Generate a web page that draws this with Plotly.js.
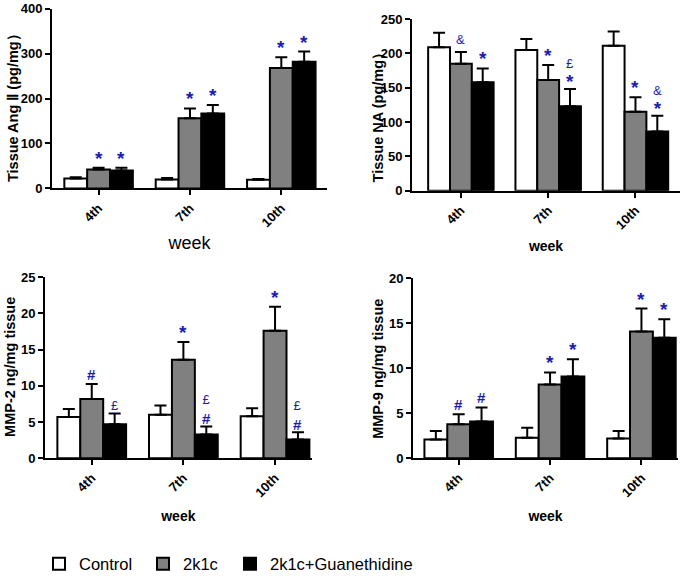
<!DOCTYPE html>
<html>
<head>
<meta charset="utf-8">
<script src="https://cdn.plot.ly/plotly-3.0.1.min.js"></script>
<style>html,body{margin:0;padding:0;background:#fff}</style>
</head>
<body>
<div id="chart" style="width:691px;height:582px"></div>
<script>
const weeks = ['4th', '7th', '10th'];
const seriesNames = ['Control', '2k1c', '2k1c+Guanethidine'];

// Tissue Ang II (pg/mg)
const angControl = [22, 20, 19];
const angControlErr = [3, 3, 2];
const ang2k1c = [42, 156, 268];
const ang2k1cErr = [4, 22, 24];
const angGuan = [40, 167, 282];
const angGuanErr = [6, 19, 23];

// Tissue NA (pg/mg)
const naControl = [209, 205, 211];
const naControlErr = [21, 16, 21];
const na2k1c = [185, 161, 115];
const na2k1cErr = [17, 22, 21];
const naGuan = [158, 123, 86];
const naGuanErr = [20, 25, 23];

// MMP-2 ng/mg tissue
const mmp2Control = [5.7, 6.0, 5.8];
const mmp2ControlErr = [1.1, 1.3, 1.1];
const mmp22k1c = [8.2, 13.6, 17.6];
const mmp22k1cErr = [2.05, 2.45, 3.3];
const mmp2Guan = [4.7, 3.3, 2.6];
const mmp2GuanErr = [1.5, 1.1, 1.0];

// MMP-9 ng/mg tissue
const mmp9Control = [2.1, 2.3, 2.2];
const mmp9ControlErr = [0.95, 1.1, 0.85];
const mmp92k1c = [3.8, 8.2, 14.1];
const mmp92k1cErr = [1.1, 1.35, 2.55];
const mmp9Guan = [4.1, 9.1, 13.4];
const mmp9GuanErr = [1.55, 1.9, 2.05];

// significance marks (top to bottom) per bar
const angMarks2k1c = [['*'], ['*'], ['*']];
const angMarksGuan = [['*'], ['*'], ['*']];
const naMarks2k1c = [['&'], ['*'], ['*']];
const naMarksGuan = [['*'], ['£', '*'], ['&', '*']];
const mmp2Marks2k1c = [['#'], ['*'], ['*']];
const mmp2MarksGuan = [['£'], ['£', '#'], ['£', '#']];
const mmp9Marks2k1c = [['#'], ['*'], ['*']];
const mmp9MarksGuan = [['#'], ['*'], ['*']];

const yTitles = ['Tissue Ang Ⅱ (pg/mg）', 'Tissue NA (pg/mg）', 'MMP-2 ng/mg tissue', 'MMP-9 ng/mg tissue'];

const W = 691, H = 582;
const panels = [
  {vals: [angControl, ang2k1c, angGuan], errs: [angControlErr, ang2k1cErr, angGuanErr],
   marks: [null, angMarks2k1c, angMarksGuan], yrange: [0, 400], dtick: 100,
   xdom: [52, 327], ydom: [9, 191], xrange: [-0.51, 2.5],
   ytitlePos: [12.5, 106], xtitle: {text: 'week', size: 18, bold: false, standoff: 7}},
  {vals: [naControl, na2k1c, naGuan], errs: [naControlErr, na2k1cErr, naGuanErr],
   marks: [null, naMarks2k1c, naMarksGuan], yrange: [0, 250], dtick: 50,
   xdom: [412, 680], ydom: [19.3, 193.3], xrange: [-0.56, 2.51],
   ytitlePos: [378, 116], xtitle: {text: 'week', size: 14, bold: true, standoff: 10}},
  {vals: [mmp2Control, mmp22k1c, mmp2Guan], errs: [mmp2ControlErr, mmp22k1cErr, mmp2GuanErr],
   marks: [null, mmp2Marks2k1c, mmp2MarksGuan], yrange: [0, 25], dtick: 5,
   xdom: [45, 311.7], ydom: [281, 464.7], xrange: [-0.51, 2.4],
   ytitlePos: [10, 372], xtitle: {text: 'week', size: 14, bold: true, standoff: 12}},
  {vals: [mmp9Control, mmp92k1c, mmp9Guan], errs: [mmp9ControlErr, mmp92k1cErr, mmp9GuanErr],
   marks: [null, mmp9Marks2k1c, mmp9MarksGuan], yrange: [0, 20], dtick: 5,
   xdom: [413, 678], ydom: [282.3, 464.7], xrange: [-0.5, 2.4],
   ytitlePos: [378, 374], xtitle: {text: 'week', size: 14, bold: true, standoff: 12}}
];

const fills = ['#ffffff', '#808080', '#000000'];
const legendIds = ['legend', 'legend2', 'legend3'];
const legendX = [39, 143, 230];
const offsets = [-0.25, 0, 0.25];
const markColor = '#1c1cb0';
const glyph = {
  '*': '<span style="font-size:19px"><b>*</b></span>',
  '#': '<b>#</b>',
  '£': '<span style="font-size:13px">£</span>',
  '&': '<span style="font-size:13px">&amp;</span>'
};
// shift (px) of the mark block's bottom above the error cap, by its lowest mark
const baseShift = {'*': -3, '#': -1, '£': -2, '&': 3};
const stackShift = -2;

const traces = [];
const annotations = [];
const baseFont = 'Liberation Sans, Arial, sans-serif';
const layout = {
  width: W, height: H, autosize: false,
  margin: {l: 0, r: 0, t: 0, b: 0},
  paper_bgcolor: '#fff', plot_bgcolor: '#fff',
  barmode: 'group', bargap: 0.25, bargroupgap: 0,
  font: {family: baseFont, color: '#000'},
  showlegend: true,
  annotations: annotations
};
legendIds.forEach((id, i) => {
  layout[id] = {orientation: 'h', x: legendX[i] / W, xanchor: 'left', y: 1 - 572 / H, yanchor: 'middle',
    font: {family: baseFont, size: 16.5, color: '#000'}, bgcolor: 'rgba(0,0,0,0)', borderwidth: 0};
});

panels.forEach((p, pi) => {
  const n = pi + 1;
  const xa = 'x' + (n === 1 ? '' : n);
  const ya = 'y' + (n === 1 ? '' : n);
  for (let s = 0; s < 3; s++) {
    traces.push({
      type: 'bar', x: weeks, y: p.vals[s], name: seriesNames[s],
      xaxis: xa, yaxis: ya, legend: legendIds[s], showlegend: pi === 0,
      marker: {color: fills[s], line: {color: '#000', width: 2}},
      error_y: {type: 'data', symmetric: false, array: p.errs[s], arrayminus: p.errs[s].map(() => 0),
        color: '#000', thickness: 2, width: 6},
      hoverinfo: 'skip'
    });
    if (p.marks[s]) {
      p.marks[s].forEach((list, i) => {
        const lowest = list[list.length - 1];
        annotations.push({
          xref: xa, yref: ya, x: i + offsets[s], y: p.vals[s][i] + p.errs[s][i],
          text: list.map(m => glyph[m]).join('<br>'), showarrow: false,
          xanchor: 'center', yanchor: 'bottom', align: 'center',
          yshift: baseShift[lowest] + (list.length > 1 ? stackShift : 0),
          font: {size: 15, color: markColor, family: baseFont}
        });
      });
    }
  }
  // y-axis title
  annotations.push({
    xref: 'paper', yref: 'paper', x: p.ytitlePos[0] / W, y: 1 - p.ytitlePos[1] / H,
    xanchor: 'center', yanchor: 'middle', textangle: -90, showarrow: false,
    text: '<b>' + yTitles[pi] + '</b>', font: {size: 14.5, family: baseFont, color: '#000'}
  });
  layout['xaxis' + (n === 1 ? '' : n)] = {
    domain: [p.xdom[0] / W, p.xdom[1] / W], anchor: ya, type: 'category',
    range: p.xrange, showline: true, linecolor: '#000', linewidth: 2,
    ticks: 'outside', ticklen: 5, tickwidth: 2, tickcolor: '#000', tickangle: -45,
    tickfont: {size: 13, family: baseFont, weight: 'bold'},
    showgrid: false, zeroline: false, automargin: false,
    title: {text: p.xtitle.bold ? '<b>' + p.xtitle.text + '</b>' : p.xtitle.text,
      font: {size: p.xtitle.size}, standoff: p.xtitle.standoff}
  };
  layout['yaxis' + (n === 1 ? '' : n)] = {
    domain: [1 - p.ydom[1] / H, 1 - p.ydom[0] / H], anchor: xa,
    range: p.yrange, dtick: p.dtick, tick0: 0, showline: true, linecolor: '#000', linewidth: 2,
    ticks: 'outside', ticklen: 5, tickwidth: 2, tickcolor: '#000',
    tickfont: {size: 13, family: baseFont, weight: 'bold'},
    showgrid: false, zeroline: false, automargin: false
  };
});

Plotly.newPlot('chart', traces, layout, {displayModeBar: false, staticPlot: true});
</script>
</body>
</html>
